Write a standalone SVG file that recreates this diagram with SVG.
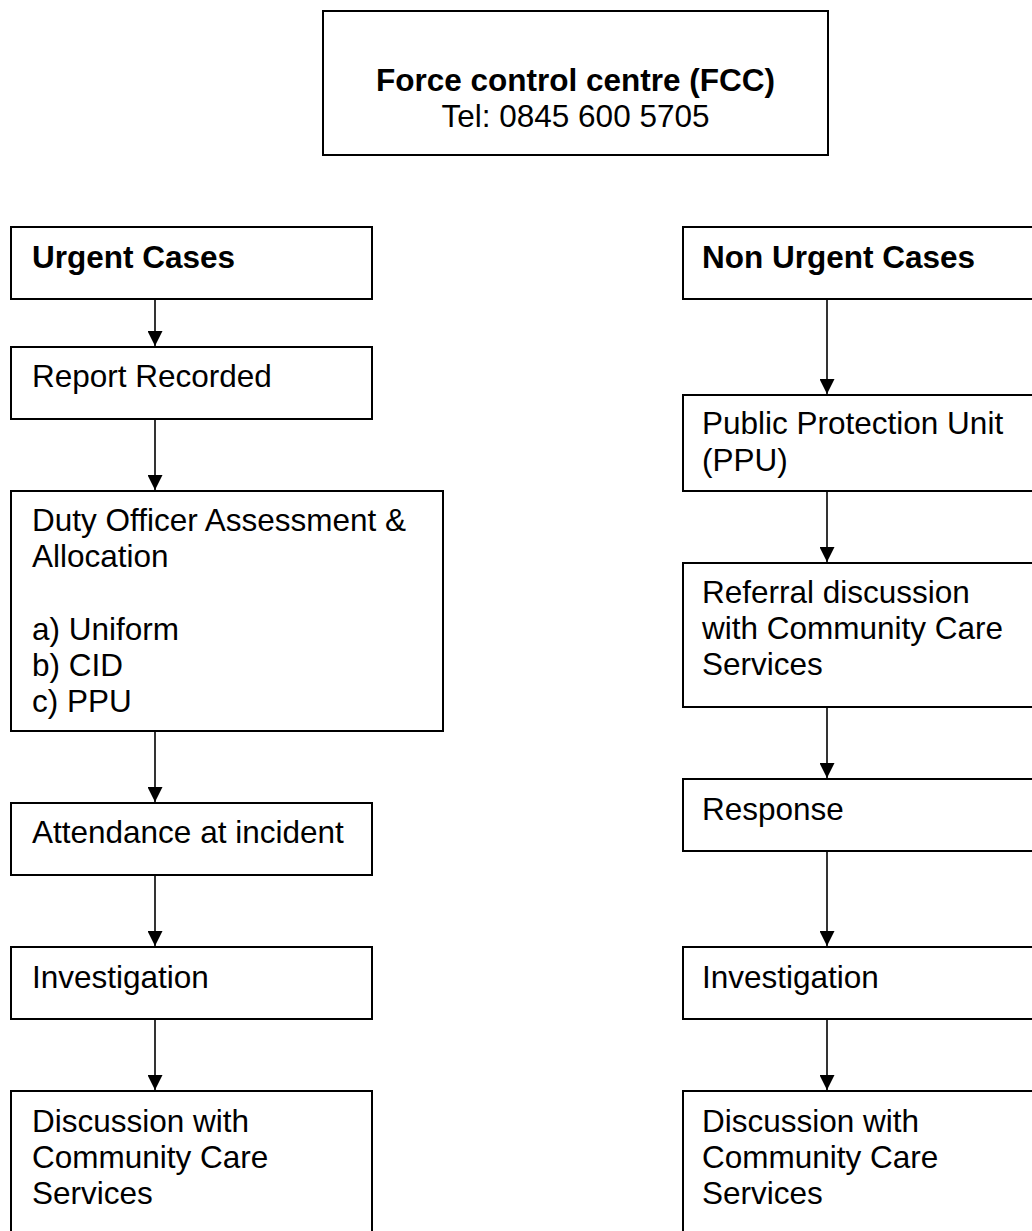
<svg xmlns="http://www.w3.org/2000/svg" width="1032" height="1231" viewBox="0 0 1032 1231">
<defs>
<style>
.box{fill:#fff;stroke:#000;stroke-width:2}
.t{font-family:"Liberation Sans",Arial,sans-serif;font-size:31.5px;fill:#000}
.b{font-weight:bold}
.c{stroke:#000;stroke-width:1.6;fill:none;marker-end:url(#ah)}
</style>
<marker id="ah" markerUnits="userSpaceOnUse" markerWidth="15" markerHeight="15" refX="15" refY="7.5" orient="auto" viewBox="0 0 15 15">
<path d="M0,0 L15,7.5 L0,15 z" fill="#000"/>
</marker>
</defs>
<rect width="1032" height="1231" fill="#fff"/>
<g id="fcc">
<rect class="box" x="323" y="11" width="505" height="144"/>
<text class="t b" x="575.5" y="91" text-anchor="middle">Force control centre (FCC)</text>
<text class="t" x="575.5" y="127" text-anchor="middle">Tel: 0845 600 5705</text>
</g>
<g id="urgent">
<rect class="box" x="11" y="227" width="361" height="72"/>
<text class="t b" x="32" y="268">Urgent Cases</text>
</g>
<g id="report">
<rect class="box" x="11" y="347" width="361" height="72"/>
<text class="t" x="32" y="387">Report Recorded</text>
</g>
<g id="duty">
<rect class="box" x="11" y="491" width="432" height="240"/>
<text class="t" x="32" y="531">Duty Officer Assessment &amp;</text>
<text class="t" x="32" y="567">Allocation</text>
<text class="t" x="32" y="640">a) Uniform</text>
<text class="t" x="32" y="676">b) CID</text>
<text class="t" x="32" y="712">c) PPU</text>
</g>
<g id="attendance">
<rect class="box" x="11" y="803" width="361" height="72"/>
<text class="t" x="32" y="843">Attendance at incident</text>
</g>
<g id="investigation-left">
<rect class="box" x="11" y="947" width="361" height="72"/>
<text class="t" x="32" y="988">Investigation</text>
</g>
<g id="discussion-left">
<rect class="box" x="11" y="1091" width="361" height="170"/>
<text class="t" x="32" y="1132">Discussion with</text>
<text class="t" x="32" y="1168">Community Care</text>
<text class="t" x="32" y="1204">Services</text>
</g>
<g id="non-urgent">
<rect class="box" x="683" y="227" width="400" height="72"/>
<text class="t b" x="702" y="268">Non Urgent Cases</text>
</g>
<g id="ppu">
<rect class="box" x="683" y="395" width="400" height="96"/>
<text class="t" x="702" y="434">Public Protection Unit</text>
<text class="t" x="702" y="471">(PPU)</text>
</g>
<g id="referral">
<rect class="box" x="683" y="563" width="400" height="144"/>
<text class="t" x="702" y="603">Referral discussion</text>
<text class="t" x="702" y="639">with Community Care</text>
<text class="t" x="702" y="675">Services</text>
</g>
<g id="response">
<rect class="box" x="683" y="779" width="400" height="72"/>
<text class="t" x="702" y="820">Response</text>
</g>
<g id="investigation-right">
<rect class="box" x="683" y="947" width="400" height="72"/>
<text class="t" x="702" y="988">Investigation</text>
</g>
<g id="discussion-right">
<rect class="box" x="683" y="1091" width="400" height="170"/>
<text class="t" x="702" y="1132">Discussion with</text>
<text class="t" x="702" y="1168">Community Care</text>
<text class="t" x="702" y="1204">Services</text>
</g>
<g id="connectors">
<line class="c" x1="155" y1="299" x2="155" y2="346"/>
<line class="c" x1="155" y1="419" x2="155" y2="490"/>
<line class="c" x1="155" y1="731" x2="155" y2="802"/>
<line class="c" x1="155" y1="875" x2="155" y2="946"/>
<line class="c" x1="155" y1="1019" x2="155" y2="1090"/>
<line class="c" x1="827" y1="299" x2="827" y2="394"/>
<line class="c" x1="827" y1="491" x2="827" y2="562"/>
<line class="c" x1="827" y1="707" x2="827" y2="778"/>
<line class="c" x1="827" y1="851" x2="827" y2="946"/>
<line class="c" x1="827" y1="1019" x2="827" y2="1090"/>
</g>
</svg>
